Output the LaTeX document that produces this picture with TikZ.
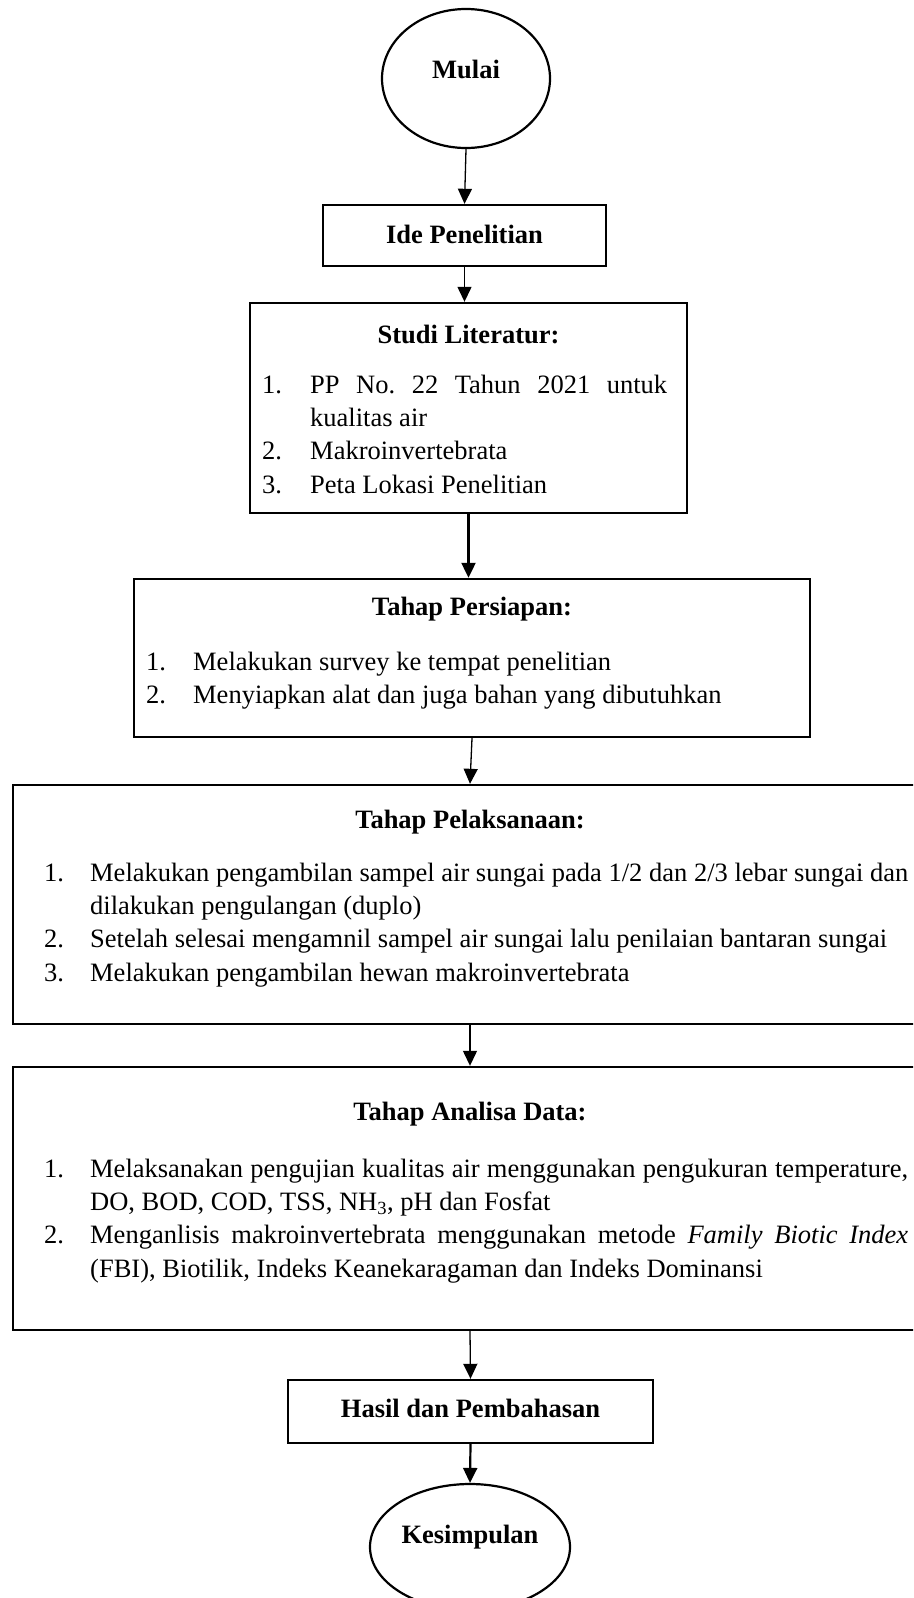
\documentclass[tikz,border=0pt]{standalone}
\usepackage{fontspec}
\setmainfont{Liberation Serif}
\usetikzlibrary{arrows.meta,shapes.geometric}
\frenchspacing
\newcommand{\myfs}{\fontsize{26.5}{33.4}\selectfont\hyphenpenalty=10000\exhyphenpenalty=10000\relax}
\newcommand{\litem}[3][47pt]{\par\noindent\hangindent=#1\hangafter=1\makebox[#1][l]{#2}#3\par}
\begin{document}
\begin{tikzpicture}[x=1pt,y=-1pt,
  box/.style={draw, line width=2.4pt, rectangle, inner sep=0pt},
  oval/.style={draw, line width=2.2pt, ellipse, inner sep=0pt},
  arr/.style={-{Triangle[length=15pt,width=14pt]}, line width=1.3pt},
  arrthick/.style={arr, line width=2.2pt},
  ttl/.style={font=\myfs\bfseries, inner sep=0pt, anchor=base},
  lst/.style={inner sep=0pt, anchor=base west, font=\myfs},
]
\clip (0,0) rectangle (913,1598);
\useasboundingbox (0,0) rectangle (913,1598);

% shapes
\node[oval, minimum width=168pt, minimum height=139pt] (mulai) at (466,78.5) {};
\node[box, minimum width=283pt, minimum height=61pt] (ide) at (464.5,235.5) {};
\node[box, minimum width=437pt, minimum height=210pt] (studi) at (468.5,408) {};
\node[box, minimum width=676pt, minimum height=158pt] (pers) at (472,658) {};
\node[box, minimum width=914pt, minimum height=239pt] (pel) at (470,904.5) {};
\node[box, minimum width=914pt, minimum height=263pt] (ana) at (470,1198.5) {};
\node[box, minimum width=365pt, minimum height=63pt] (hasil) at (470.5,1411.5) {};
\node[oval, minimum width=200pt, minimum height=126pt] (kes) at (470,1547) {};

% texts
\node[ttl] (mulaiT) at (466,78) {Mulai};
\node[ttl] (ideT) at (464.5,243) {Ide Penelitian};
\node[ttl] (studiT) at (468.5,343) {Studi Literatur:};
\node[ttl] (persT) at (472,615) {Tahap Persiapan:};
\node[ttl] (pelT) at (470,828) {Tahap Pelaksanaan:};
\node[ttl] (anaT) at (470,1120) {Tahap Analisa Data:};
\node[ttl] (hasilT) at (470.5,1417) {Hasil dan Pembahasan};
\node[ttl] (kesT) at (470,1543) {Kesimpulan};

\node[lst] (studiL) at (262,393) {\parbox[t]{405pt}{\myfs
  \litem[48pt]{1.}{PP No. 22 Tahun 2021 untuk\linebreak kualitas air}
  \litem[48pt]{2.}{Makroinvertebrata}
  \litem[48pt]{3.}{Peta Lokasi Penelitian}}};

\node[lst] (persL) at (146,670) {\parbox[t]{640pt}{\myfs
  \litem[47pt]{1.}{Melakukan survey ke tempat penelitian}
  \litem[47pt]{2.}{Menyiapkan alat dan juga bahan yang dibutuhkan}}};

\node[lst] (pelL) at (44,881) {\parbox[t]{864pt}{\myfs
  \litem[46pt]{1.}{Melakukan pengambilan sampel air sungai pada 1/2 dan 2/3 lebar sungai dan dilakukan pengulangan (duplo)}
  \litem[46pt]{2.}{Setelah selesai mengamnil sampel air sungai lalu penilaian bantaran sungai}
  \litem[46pt]{3.}{Melakukan pengambilan hewan makroinvertebrata}}};

\node[lst] (anaL) at (44,1177) {\parbox[t]{864pt}{\myfs
  \litem[46pt]{1.}{Melaksanakan pengujian kualitas air menggunakan pengukuran temperature, DO, BOD, COD, TSS, NH\textsubscript{3}, pH dan Fosfat}
  \litem[46pt]{2.}{Menganlisis makroinvertebrata menggunakan metode \textit{Family Biotic Index} (FBI), Biotilik, Indeks Keanekaragaman dan Indeks Dominansi}}};

% connectors
\draw[arr] (mulai.south) -- (ide.north);
\draw[arr] (ide.south) -- (ide.south |- studi.north);
\draw[arrthick] (studi.south) -- (studi.south |- pers.north);
\draw[arr] (pers.south) -- (pel.north);
\draw[arr] (pel.south) -- (ana.north);
\draw[arr] (ana.south) -- (hasil.north);
\draw[arrthick] (hasil.south) -- (kes.north);
\end{tikzpicture}
\end{document}
